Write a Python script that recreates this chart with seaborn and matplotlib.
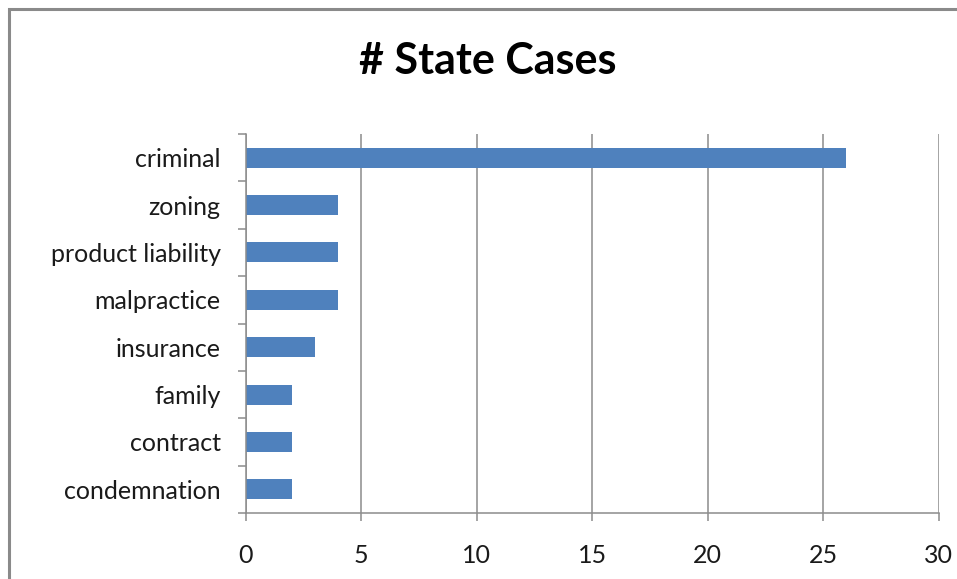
import matplotlib
matplotlib.use("Agg")
import matplotlib.pyplot as plt
import seaborn as sns
import pandas as pd
from matplotlib.patches import Rectangle
from matplotlib.ticker import FixedLocator

# Case counts by area of law
categories = ["criminal", "zoning", "product liability", "malpractice",
              "insurance", "family", "contract", "condemnation"]
cases = [26, 4, 4, 4, 3, 2, 2, 2]
x_ticks = [0, 5, 10, 15, 20, 25, 30]
title = "# State Cases"

df = pd.DataFrame({"category": categories, "cases": cases})

sns.set_theme(style="white")
plt.rcParams["font.family"] = ["Lato", "DejaVu Sans"]

W, H = 957, 579
fig = plt.figure(figsize=(W / 100, H / 100), dpi=100)
fig.patch.set_facecolor("white")

# outer chart frame (left and top edges visible)
frame = Rectangle((9 / W, -0.05), 1.1, 1 - 9 / H + 0.05, transform=fig.transFigure,
                  fill=False, edgecolor="#8a8a8a", linewidth=2.2, clip_on=False)
fig.patches.append(frame)

left, right, top, bottom = 245.5, 938.7, 134, 513
ax = fig.add_axes([left / W, 1 - bottom / H, (right - left) / W, (bottom - top) / H])

sns.barplot(data=df, x="cases", y="category", orient="h", color="#4F81BD",
            width=0.42, saturation=1, linewidth=0, ax=ax)

grid_c = "#8c8c8c"
ax.set_xlim(0, 30)
ax.set_ylim(len(categories) - 0.5, -0.5)
ax.set_xticks(x_ticks)
ax.set_xticklabels([str(t) for t in x_ticks])
ax.xaxis.grid(True, color=grid_c, linewidth=1.1)
ax.yaxis.grid(False)
ax.set_axisbelow(True)

for s in ["top", "right"]:
    ax.spines[s].set_visible(False)
for s in ["left", "bottom"]:
    ax.spines[s].set_color(grid_c)
    ax.spines[s].set_linewidth(1.1)

ax.set_xlabel("")
ax.set_ylabel("")

# category separators as tick marks on the value axis
ax.yaxis.set_minor_locator(FixedLocator([i - 0.5 for i in range(len(categories) + 1)]))
ax.tick_params(axis="y", which="major", length=0, pad=18, labelsize=18, labelcolor="#1a1a1a")
ax.tick_params(axis="y", which="minor", length=6, width=1.1, color=grid_c, direction="out", left=True)
ax.tick_params(axis="x", which="major", length=6, width=1.1, color=grid_c, direction="out",
               bottom=True, pad=16, labelsize=18, labelcolor="#1a1a1a")

fig.text(488 / W, 1 - 61 / H, title, ha="center", va="center",
         fontsize=31, fontweight="bold", color="black")

fig.savefig("out.png", dpi=100, facecolor="white")
